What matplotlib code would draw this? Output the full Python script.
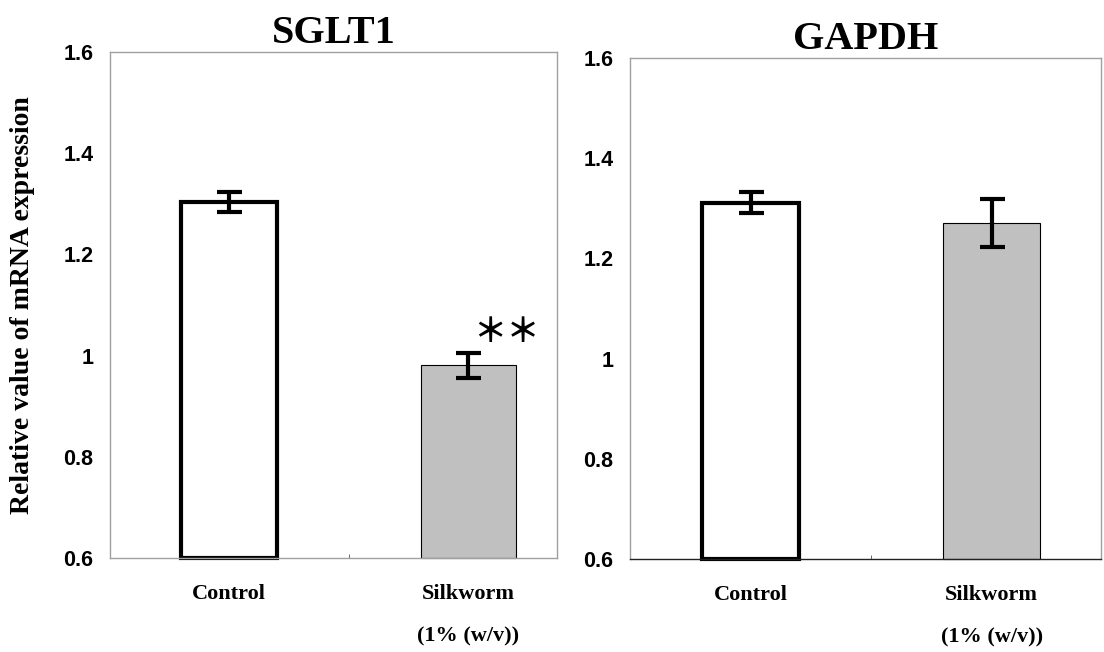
import matplotlib
matplotlib.use("Agg")
import matplotlib.pyplot as plt
from matplotlib.ticker import FuncFormatter

# data
groups = ["Control", "Silkworm\n(1% (w/v))"]
sglt1_mean = [1.303, 0.981]
sglt1_err = [0.020, 0.025]
gapdh_mean = [1.311, 1.271]
gapdh_err = [0.021, 0.048]
yticks = [0.6, 0.8, 1.0, 1.2, 1.4, 1.6]

serif = "Liberation Serif"
sans = "Liberation Sans"
base = 0.6

fig = plt.figure(figsize=(11.04, 6.52), dpi=100)
ax1 = fig.add_axes([0.0996, 0.1442, 0.4053, 0.7760])
ax2 = fig.add_axes([0.5707, 0.1426, 0.4266, 0.7685])


def panel(ax, means, errs, title, xlim):
    x = range(len(means))
    heights = [m - base for m in means]
    ax.bar(x, heights, width=0.4, bottom=base, color=["white", "#c0c0c0"],
           edgecolor="black", linewidth=[3.0, 0.8], zorder=2, clip_on=False)
    ax.errorbar(x, means, yerr=errs, fmt="none", ecolor="black",
                elinewidth=3, capsize=9, capthick=3, zorder=3)
    ax.set_ylim(0.6, 1.6)
    ax.set_xlim(*xlim)
    ax.set_yticks(yticks)
    ax.yaxis.set_major_formatter(FuncFormatter(lambda v, p: "%g" % round(v, 1)))
    ax.set_xticks(list(x))
    ax.set_xticklabels(groups, fontfamily=serif, fontweight="bold",
                       fontsize=16, linespacing=2.45, va="top")
    ax.set_xticks([0.5], minor=True)
    ax.tick_params(axis="x", which="major", length=0, pad=19)
    ax.tick_params(axis="x", which="minor", length=3, direction="in", color="#555")
    ax.tick_params(axis="y", length=0, pad=12)
    for lab in ax.get_yticklabels():
        lab.set_fontfamily(sans)
        lab.set_fontweight("bold")
        lab.set_fontsize(15.5)
    for s in ax.spines.values():
        s.set_color("#a0a0a0")
        s.set_linewidth(1.0)
    ax.set_title(title, fontfamily=serif, fontweight="bold", fontsize=29, pad=2)


panel(ax1, sglt1_mean, sglt1_err, "SGLT1", (-0.498, 1.372))
panel(ax2, gapdh_mean, gapdh_err, "GAPDH", (-0.5, 1.454))
ax2.spines["bottom"].set_color("#222222")

ax1.set_ylabel("Relative value of mRNA expression", fontfamily=serif,
               fontweight="bold", fontsize=20, labelpad=20)

# significance mark above the silkworm bar
ax1.text(1.16, sglt1_mean[1] + sglt1_err[1] + 0.04, "\uff0a\uff0a",
         ha="center", va="center", fontsize=24, fontweight="bold",
         fontfamily="Noto Sans CJK JP")

fig.savefig("out.png", dpi=100)
